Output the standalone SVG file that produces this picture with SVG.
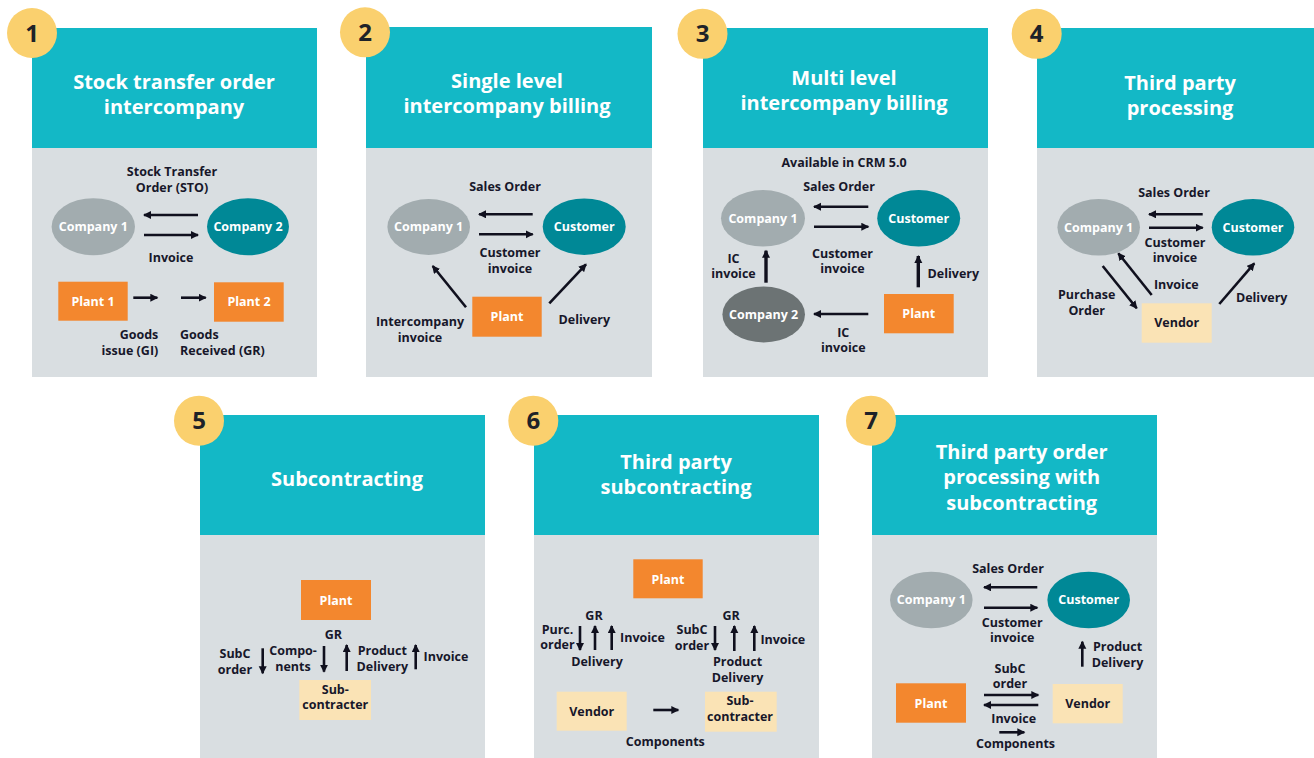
<svg xmlns="http://www.w3.org/2000/svg" width="1314" height="758" viewBox="0 0 1314 758">
<defs>
<marker id="ah" markerUnits="userSpaceOnUse" markerWidth="9" markerHeight="9" refX="7" refY="4" orient="auto">
<path d="M0,0 L8,4 L0,8 z" fill="#10101e"/>
</marker>
<style>
.hdr{fill:#13B8C6}
.body{fill:#D9DEE1}
.badge{fill:#FAD06E}
.num{font-family:"Open Sans","DejaVu Sans",sans-serif;font-weight:700;font-size:24px;fill:#1E2228;text-anchor:middle}
.title{font-family:"Open Sans","DejaVu Sans",sans-serif;font-weight:700;font-size:20px;fill:#ffffff;text-anchor:middle}
.lbl{font-family:"Open Sans","DejaVu Sans",sans-serif;font-weight:700;font-size:12.5px;fill:#17172a;text-anchor:middle}
.wl{font-family:"Open Sans","DejaVu Sans",sans-serif;font-weight:700;font-size:12.5px;fill:#ffffff;text-anchor:middle}
.c1{fill:#A2ACAF}
.cu{fill:#008896}
.c2{fill:#6C7374}
.pl{fill:#F3872E}
.vd{fill:#FAE3B5}
.arr{stroke:#10101e;stroke-width:2.6;fill:none;marker-end:url(#ah)}
.arrb{stroke:#10101e;stroke-width:3.4;fill:none;marker-end:url(#ah)}
</style>
</defs>
<rect width="1314" height="758" fill="#ffffff"/>

<!-- Panel 1 -->
<g id="panel1">
<rect class="hdr" x="32" y="28" width="285" height="120"/>
<rect class="body" x="32" y="148" width="285" height="229"/>
<g id="p1-badge"><circle class="badge" cx="32" cy="33" r="25"/><text class="num" x="32" y="41.5">1</text></g>
<text class="title" x="174" y="89">Stock transfer order</text>
<text class="title" x="174" y="114">intercompany</text>
<g id="p1-company1"><ellipse class="c1" cx="93.3" cy="226.7" rx="41.7" ry="28.5"/><text class="wl" x="93.3" y="231">Company 1</text></g>
<g id="p1-company2"><ellipse class="cu" cx="248" cy="226.7" rx="41" ry="28.5"/><text class="wl" x="248" y="231">Company 2</text></g>
<g id="p1-plant1"><rect class="pl" x="58.3" y="281.7" width="69.4" height="39"/><text class="wl" x="93" y="305.5">Plant 1</text></g>
<g id="p1-plant2"><rect class="pl" x="214" y="282.3" width="69.7" height="39.4"/><text class="wl" x="249" y="306">Plant 2</text></g>
<g id="p1-connectors">
<line class="arr" x1="198" y1="215" x2="144" y2="215"/>
<line class="arr" x1="144" y1="235" x2="198" y2="235"/>
<line class="arr" x1="133.3" y1="297.7" x2="157.3" y2="297.7"/>
<line class="arr" x1="181" y1="297.7" x2="205.7" y2="297.7"/>
<text class="lbl" x="172" y="176">Stock Transfer</text>
<text class="lbl" x="172" y="192">Order (STO)</text>
<text class="lbl" x="171" y="262">Invoice</text>
<text class="lbl" x="158.3" y="339" style="text-anchor:end">Goods</text>
<text class="lbl" x="158.3" y="355" style="text-anchor:end">issue (GI)</text>
<text class="lbl" x="180" y="339" style="text-anchor:start">Goods</text>
<text class="lbl" x="180" y="355" style="text-anchor:start">Received (GR)</text>
</g>
</g>

<!-- Panel 2 -->
<g id="panel2">
<rect class="hdr" x="366" y="27" width="286" height="121"/>
<rect class="body" x="366" y="148" width="286" height="229"/>
<g id="p2-badge"><circle class="badge" cx="365" cy="32.3" r="25"/><text class="num" x="365" y="40.8">2</text></g>
<text class="title" x="507" y="87.5">Single level</text>
<text class="title" x="507" y="112.5">intercompany billing</text>
<g id="p2-company1"><ellipse class="c1" cx="428.7" cy="227" rx="41.3" ry="28"/><text class="wl" x="428.7" y="231.3">Company 1</text></g>
<g id="p2-customer"><ellipse class="cu" cx="584.2" cy="226.7" rx="41.5" ry="28.3"/><text class="wl" x="584.2" y="231">Customer</text></g>
<g id="p2-plant"><rect class="pl" x="472.3" y="296.7" width="69.4" height="40"/><text class="wl" x="507" y="321">Plant</text></g>
<g id="p2-connectors">
<line class="arr" x1="532.7" y1="214.3" x2="479" y2="214.3"/>
<line class="arr" x1="479" y1="234.3" x2="532.7" y2="234.3"/>
<line class="arr" x1="466" y1="307.3" x2="432.7" y2="266"/>
<line class="arr" x1="549.3" y1="303.3" x2="586" y2="264.3"/>
<text class="lbl" x="505" y="190.7">Sales Order</text>
<text class="lbl" x="510" y="257.3">Customer</text>
<text class="lbl" x="510" y="272.7">invoice</text>
<text class="lbl" x="420" y="326">Intercompany</text>
<text class="lbl" x="420" y="341.7">invoice</text>
<text class="lbl" x="584.3" y="324">Delivery</text>
</g>
</g>

<!-- Panel 3 -->
<g id="panel3">
<rect class="hdr" x="703" y="28" width="285" height="120"/>
<rect class="body" x="703" y="148" width="285" height="229"/>
<g id="p3-badge"><circle class="badge" cx="702.5" cy="33.8" r="25"/><text class="num" x="702.5" y="42.3">3</text></g>
<text class="title" x="844" y="85">Multi level</text>
<text class="title" x="844" y="110">intercompany billing</text>
<g id="p3-company1"><ellipse class="c1" cx="763" cy="218.3" rx="42" ry="28.3"/><text class="wl" x="763" y="222.6">Company 1</text></g>
<g id="p3-customer"><ellipse class="cu" cx="918.7" cy="218.3" rx="41.5" ry="28.3"/><text class="wl" x="918.7" y="222.6">Customer</text></g>
<g id="p3-company2"><ellipse class="c2" cx="763.7" cy="314.5" rx="41.3" ry="28"/><text class="wl" x="763.7" y="318.8">Company 2</text></g>
<g id="p3-plant"><rect class="pl" x="884" y="294" width="69.7" height="39.3"/><text class="wl" x="918.8" y="318">Plant</text></g>
<g id="p3-connectors">
<line class="arr" x1="868.3" y1="206.7" x2="814" y2="206.7"/>
<line class="arr" x1="814" y1="226.7" x2="868.3" y2="226.7"/>
<line class="arrb" x1="766" y1="282.7" x2="766" y2="250.7"/>
<line class="arrb" x1="918.3" y1="287.3" x2="918.3" y2="256"/>
<line class="arr" x1="868.3" y1="314" x2="814" y2="314"/>
<text class="lbl" x="844" y="166.7">Available in CRM 5.0</text>
<text class="lbl" x="839" y="190.7">Sales Order</text>
<text class="lbl" x="842.5" y="258.3">Customer</text>
<text class="lbl" x="842.5" y="273.3">invoice</text>
<text class="lbl" x="733.5" y="263.3">IC</text>
<text class="lbl" x="733.5" y="278.3">invoice</text>
<text class="lbl" x="953.3" y="278.3">Delivery</text>
<text class="lbl" x="843.3" y="336.7">IC</text>
<text class="lbl" x="843.3" y="352.3">invoice</text>
</g>
</g>

<!-- Panel 4 -->
<g id="panel4">
<rect class="hdr" x="1037" y="28" width="277" height="120"/>
<rect class="body" x="1037" y="148" width="277" height="229"/>
<g id="p4-badge"><circle class="badge" cx="1036.7" cy="33.8" r="25"/><text class="num" x="1036.7" y="42.3">4</text></g>
<text class="title" x="1180" y="89.5">Third party</text>
<text class="title" x="1180" y="114.5">processing</text>
<g id="p4-company1"><ellipse class="c1" cx="1098.7" cy="227.3" rx="41.3" ry="28.3"/><text class="wl" x="1098.7" y="231.6">Company 1</text></g>
<g id="p4-customer"><ellipse class="cu" cx="1253" cy="227.3" rx="41.3" ry="28.3"/><text class="wl" x="1253" y="231.6">Customer</text></g>
<g id="p4-vendor"><rect class="vd" x="1141.7" y="303.3" width="70" height="39.4"/><text class="lbl" x="1176.7" y="327">Vendor</text></g>
<g id="p4-connectors">
<line class="arr" x1="1202.7" y1="214.3" x2="1149" y2="214.3"/>
<line class="arr" x1="1149" y1="227.7" x2="1202.7" y2="227.7"/>
<line class="arr" x1="1102.7" y1="266" x2="1136.7" y2="308.3"/>
<line class="arr" x1="1151.7" y1="295" x2="1118.3" y2="253.3"/>
<line class="arr" x1="1219.3" y1="304" x2="1254.3" y2="263.3"/>
<text class="lbl" x="1174" y="196.7">Sales Order</text>
<text class="lbl" x="1175" y="246.7">Customer</text>
<text class="lbl" x="1175" y="261.7">invoice</text>
<text class="lbl" x="1176.3" y="289.3">Invoice</text>
<text class="lbl" x="1086.7" y="299.3">Purchase</text>
<text class="lbl" x="1086.7" y="315">Order</text>
<text class="lbl" x="1261.7" y="301.7">Delivery</text>
</g>
</g>

<!-- Panel 5 -->
<g id="panel5">
<rect class="hdr" x="200" y="415" width="285" height="120"/>
<rect class="body" x="200" y="535" width="285" height="223"/>
<g id="p5-badge"><circle class="badge" cx="199" cy="420.7" r="25"/><text class="num" x="199" y="429.2">5</text></g>
<text class="title" x="347" y="486">Subcontracting</text>
<g id="p5-plant"><rect class="pl" x="301" y="580" width="70" height="40"/><text class="wl" x="336" y="604.5">Plant</text></g>
<g id="p5-subcontracter"><rect class="vd" x="299.3" y="680" width="71.7" height="40"/><text class="lbl" x="335.3" y="694">Sub-</text><text class="lbl" x="335.3" y="709.3">contracter</text></g>
<g id="p5-connectors">
<line class="arr" x1="262.7" y1="648.3" x2="262.7" y2="673.3"/>
<line class="arr" x1="324" y1="646" x2="324" y2="671.7"/>
<line class="arr" x1="346.7" y1="671" x2="346.7" y2="645"/>
<line class="arr" x1="415.7" y1="669.3" x2="415.7" y2="645"/>
<text class="lbl" x="333.3" y="639.3">GR</text>
<text class="lbl" x="235" y="658.3">SubC</text>
<text class="lbl" x="235" y="674">order</text>
<text class="lbl" x="293" y="655">Compo-</text>
<text class="lbl" x="293" y="670.7">nents</text>
<text class="lbl" x="382.3" y="655">Product</text>
<text class="lbl" x="382.3" y="670.5">Delivery</text>
<text class="lbl" x="446" y="660.7">Invoice</text>
</g>
</g>

<!-- Panel 6 -->
<g id="panel6">
<rect class="hdr" x="534" y="415" width="285" height="120"/>
<rect class="body" x="534" y="535" width="285" height="223"/>
<g id="p6-badge"><circle class="badge" cx="533.3" cy="420.7" r="25"/><text class="num" x="533.3" y="429.2">6</text></g>
<text class="title" x="676" y="469.3">Third party</text>
<text class="title" x="676" y="494.3">subcontracting</text>
<g id="p6-plant"><rect class="pl" x="633.3" y="559.3" width="69.4" height="39"/><text class="wl" x="668" y="583.5">Plant</text></g>
<g id="p6-vendor"><rect class="vd" x="556.7" y="691.7" width="70" height="39"/><text class="lbl" x="591.7" y="715.5">Vendor</text></g>
<g id="p6-subcontracter"><rect class="vd" x="705" y="691.7" width="71.7" height="40"/><text class="lbl" x="740" y="705.3">Sub-</text><text class="lbl" x="740" y="720.6">contracter</text></g>
<g id="p6-connectors">
<line class="arr" x1="580" y1="626" x2="580" y2="650"/>
<line class="arr" x1="595" y1="650" x2="595" y2="626"/>
<line class="arr" x1="611.7" y1="650" x2="611.7" y2="626"/>
<line class="arr" x1="715" y1="626" x2="715" y2="650"/>
<line class="arr" x1="734.3" y1="651" x2="734.3" y2="626"/>
<line class="arr" x1="754.3" y1="651" x2="754.3" y2="626"/>
<line class="arr" x1="653.3" y1="710" x2="678.3" y2="710"/>
<text class="lbl" x="594" y="620">GR</text>
<text class="lbl" x="557.5" y="634.3">Purc.</text>
<text class="lbl" x="557.5" y="649.3">order</text>
<text class="lbl" x="642.5" y="641.7">Invoice</text>
<text class="lbl" x="597" y="666">Delivery</text>
<text class="lbl" x="731.2" y="620">GR</text>
<text class="lbl" x="692" y="634.3">SubC</text>
<text class="lbl" x="692" y="650">order</text>
<text class="lbl" x="782.8" y="644">Invoice</text>
<text class="lbl" x="737.5" y="666">Product</text>
<text class="lbl" x="737.5" y="681.7">Delivery</text>
<text class="lbl" x="665.3" y="746">Components</text>
</g>
</g>

<!-- Panel 7 -->
<g id="panel7">
<rect class="hdr" x="872" y="415" width="285" height="120"/>
<rect class="body" x="872" y="535" width="285" height="223"/>
<g id="p7-badge"><circle class="badge" cx="871" cy="420.7" r="25"/><text class="num" x="871" y="429.2">7</text></g>
<text class="title" x="1021.7" y="458.5">Third party order</text>
<text class="title" x="1021.7" y="484">processing with</text>
<text class="title" x="1021.7" y="509.5">subcontracting</text>
<g id="p7-company1"><ellipse class="c1" cx="931.3" cy="600" rx="41.3" ry="28.3"/><text class="wl" x="931.3" y="604.3">Company 1</text></g>
<g id="p7-customer"><ellipse class="cu" cx="1088.7" cy="600" rx="41.3" ry="28.3"/><text class="wl" x="1088.7" y="604.3">Customer</text></g>
<g id="p7-plant"><rect class="pl" x="896" y="683.3" width="70" height="39.4"/><text class="wl" x="931" y="707.5">Plant</text></g>
<g id="p7-vendor"><rect class="vd" x="1052.7" y="684" width="70" height="39.3"/><text class="lbl" x="1087.7" y="708">Vendor</text></g>
<g id="p7-connectors">
<line class="arr" x1="1037.3" y1="587.3" x2="984" y2="587.3"/>
<line class="arr" x1="984" y1="607.7" x2="1037.3" y2="607.7"/>
<line class="arr" x1="1082.3" y1="666.7" x2="1082.3" y2="641.7"/>
<line class="arr" x1="984" y1="695" x2="1038.3" y2="695"/>
<line class="arr" x1="1038.3" y1="705" x2="984" y2="705"/>
<line class="arr" x1="999.3" y1="732.3" x2="1024.3" y2="732.3"/>
<text class="lbl" x="1008" y="572.7">Sales Order</text>
<text class="lbl" x="1012.2" y="626.7">Customer</text>
<text class="lbl" x="1012.2" y="641.7">invoice</text>
<text class="lbl" x="1117.5" y="651">Product</text>
<text class="lbl" x="1117.5" y="666.7">Delivery</text>
<text class="lbl" x="1010" y="672.7">SubC</text>
<text class="lbl" x="1010" y="687.5">order</text>
<text class="lbl" x="1013.7" y="723.3">Invoice</text>
<text class="lbl" x="1015.5" y="748.3">Components</text>
</g>
</g>
</svg>
